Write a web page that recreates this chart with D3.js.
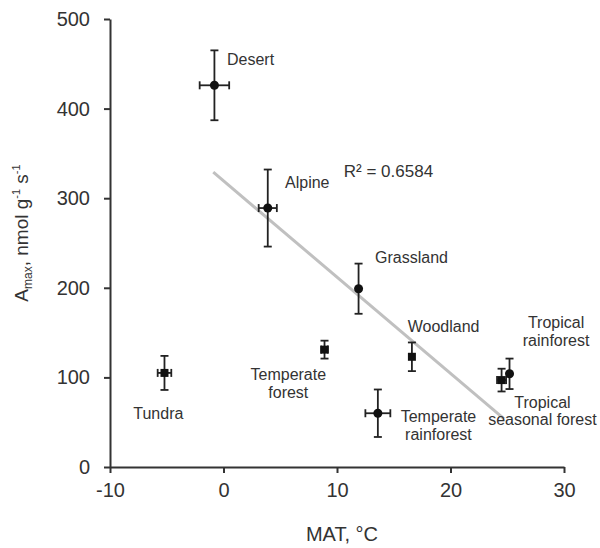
<!DOCTYPE html>
<html>
<head>
<meta charset="utf-8">
<script src="https://cdn.jsdelivr.net/npm/d3@7"></script>
<style>
  body { margin: 0; background: #fff; }
  svg { font-family: "Liberation Sans", Arial, sans-serif; }
</style>
</head>
<body>
<script>
// biome means (MAT vs Amax) with SE bars
const biomes = ["Desert", "Alpine", "Grassland", "Woodland", "Temperate forest",
  "Temperate rainforest", "Tropical seasonal forest", "Tropical rainforest", "Tundra"];
const mat = [-0.8, 3.9, 11.9, 16.6, 8.9, 13.6, 24.5, 25.2, -5.2];
const matErr = [1.3, 0.8, 0.1, 0.25, 0.3, 1.1, 0.4, 0.15, 0.6];
const amax = [426, 289, 199, 123, 131, 60, 97, 104, 105];
const amaxErr = [39, 43, 28, 16, 10, 26.5, 12.7, 17, 19];
const shapes = ["circle", "circle", "circle", "square", "square", "circle", "square", "circle", "square"];

// label text + anchor (data units)
const labelLines = [["Desert"], ["Alpine"], ["Grassland"], ["Woodland"], ["Temperate", "forest"],
  ["Temperate", "rainforest"], ["Tropical", "seasonal forest"], ["Tropical", "rainforest"], ["Tundra"]];
const labelX = [0.31, 5.42, 13.35, 16.23, 5.71, 18.94, 28.1, 29.3, -5.74];
const labelY = [449, 311, 228, 151, 97, 50, 66, 155, 54];
const labelAnchor = ["start", "start", "start", "start", "middle", "middle", "middle", "middle", "middle"];

const trendX = [-0.9, 24.7];
const trendY = [329, 54];
const r2Text = "R² = 0.6584";
const r2At = [10.6, 324];

const xTicks = [-10, 0, 10, 20, 30];
const yTicks = [0, 100, 200, 300, 400, 500];

const width = 600, height = 548;
const margin = {top: 19, right: 36, bottom: 81, left: 110};
const ink = "#333";

const svg = d3.select("body").append("svg")
  .attr("width", width)
  .attr("height", height);

const x = d3.scaleLinear().domain([-10, 30]).range([margin.left, width - margin.right]);
const y = d3.scaleLinear().domain([0, 500]).range([height - margin.bottom, margin.top]);

// axes (plain hyphen for negatives, like the original)
const xAxis = svg.append("g")
  .attr("transform", `translate(0,${y(0)})`)
  .call(d3.axisBottom(x).tickValues(xTicks).tickFormat(d => String(d))
    .tickSize(6).tickPadding(10).tickSizeOuter(0));
const yAxis = svg.append("g")
  .attr("transform", `translate(${x(-10)},0)`)
  .call(d3.axisLeft(y).tickValues(yTicks).tickFormat(d => String(d))
    .tickSize(6).tickPadding(14).tickSizeOuter(0));

[xAxis, yAxis].forEach(g => {
  g.select(".domain").attr("stroke", ink).attr("stroke-width", 2);
  g.selectAll(".tick line").attr("stroke", ink).attr("stroke-width", 2);
  g.selectAll(".tick text").attr("fill", ink).attr("font-size", 20)
    .attr("font-family", "Liberation Sans, Arial, sans-serif");
});

// axis titles
svg.append("text")
  .attr("x", 342).attr("y", 541)
  .attr("text-anchor", "middle")
  .attr("font-size", 20).attr("fill", ink)
  .text("MAT, °C");

const yt = svg.append("text")
  .attr("transform", `translate(28,233) rotate(-90)`)
  .attr("text-anchor", "middle")
  .attr("font-size", 19).attr("fill", ink);
yt.append("tspan").text("A");
yt.append("tspan").attr("font-size", 12).attr("dy", 4).text("max");
yt.append("tspan").attr("dy", -4).text(", nmol g");
yt.append("tspan").attr("font-size", 11).attr("dy", -8).text("-1");
yt.append("tspan").attr("dy", 8).text(" s");
yt.append("tspan").attr("font-size", 11).attr("dy", -8).text("-1");

// trend line
svg.append("line")
  .attr("x1", x(trendX[0])).attr("y1", y(trendY[0]))
  .attr("x2", x(trendX[1])).attr("y2", y(trendY[1]))
  .attr("stroke", "#c0c0c0").attr("stroke-width", 3);

svg.append("text")
  .attr("x", x(r2At[0])).attr("y", y(r2At[1]))
  .attr("font-size", 17).attr("fill", ink)
  .text(r2Text);

const pts = biomes.map((b, i) => ({
  name: b, x: mat[i], y: amax[i], ex: matErr[i], ey: amaxErr[i], shape: shapes[i]
}));

const cap = 4;
const bars = svg.append("g").attr("stroke", "#222").attr("stroke-width", 1.8);
pts.forEach(d => {
  const cx = x(d.x), cy = y(d.y);
  const y0 = y(d.y - d.ey), y1 = y(d.y + d.ey);
  bars.append("line").attr("x1", cx).attr("x2", cx).attr("y1", y0).attr("y2", y1);
  bars.append("line").attr("x1", cx - cap).attr("x2", cx + cap).attr("y1", y0).attr("y2", y0);
  bars.append("line").attr("x1", cx - cap).attr("x2", cx + cap).attr("y1", y1).attr("y2", y1);
  const x0 = x(d.x - d.ex), x1 = x(d.x + d.ex);
  if (x1 - x0 > 6) {
    bars.append("line").attr("x1", x0).attr("x2", x1).attr("y1", cy).attr("y2", cy);
    bars.append("line").attr("x1", x0).attr("x2", x0).attr("y1", cy - cap).attr("y2", cy + cap);
    bars.append("line").attr("x1", x1).attr("x2", x1).attr("y1", cy - cap).attr("y2", cy + cap);
  }
});

const sym = {circle: d3.symbolCircle, square: d3.symbolSquare};
svg.append("g").selectAll("path")
  .data(pts)
  .join("path")
  .attr("transform", d => `translate(${x(d.x)},${y(d.y)})`)
  .attr("d", d => d3.symbol(sym[d.shape], 64)())
  .attr("fill", "#111");

// biome labels
const lab = svg.append("g").attr("font-size", 16).attr("fill", ink);
biomes.forEach((b, i) => {
  const t = lab.append("text")
    .attr("x", x(labelX[i])).attr("y", y(labelY[i]))
    .attr("text-anchor", labelAnchor[i]);
  labelLines[i].forEach((ln, j) => {
    t.append("tspan").attr("x", x(labelX[i])).attr("dy", j ? 17.5 : 0).text(ln);
  });
});
</script>
</body>
</html>
